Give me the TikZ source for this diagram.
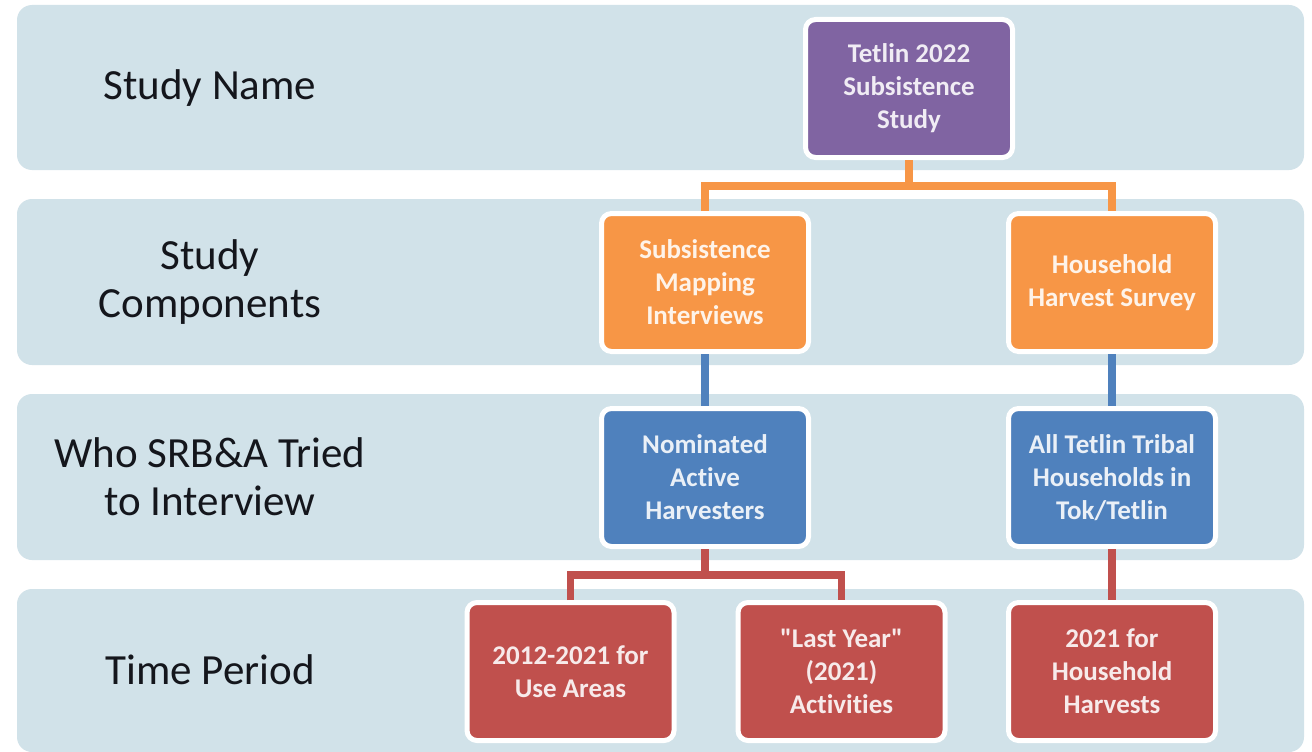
\documentclass[tikz,border=0pt]{standalone}
\usepackage{fontspec}
\setmainfont[Ligatures={TeXOff,NoCommon}]{Carlito}
\definecolor{bandc}{RGB}{209,226,233}
\definecolor{purplec}{RGB}{128,100,162}
\definecolor{orangec}{RGB}{247,150,70}
\definecolor{bluec}{RGB}{79,129,189}
\definecolor{redc}{RGB}{192,80,77}
\definecolor{labelc}{RGB}{20,22,28}
\tikzset{
  band/.style={fill=bandc, rounded corners=15pt},
  cbox/.style={rectangle, rounded corners=10pt, draw=white, line width=5pt,
    minimum width=207pt, minimum height=138pt, align=center, inner sep=2pt,
    font=\bfseries\fontsize{27}{33}\selectfont},
  pbox/.style={cbox, fill=purplec, text=white!88!purplec},
  obox/.style={cbox, fill=orangec, text=white!88!orangec},
  bbox/.style={cbox, fill=bluec, text=white!88!bluec},
  rbox/.style={cbox, fill=redc, text=white!88!redc},
  rowlabel/.style={align=center, text=labelc, font=\fontsize{43}{48}\selectfont},
  conn/.style={line width=7.5pt, line join=miter, line cap=butt},
  oline/.style={conn, draw=orangec},
  bline/.style={conn, draw=bluec},
  rline/.style={conn, draw=redc},
}
\begin{document}
\begin{tikzpicture}[x=1pt, y=-1pt]
\useasboundingbox (0,0) rectangle (1312,752);
\fill[white] (0,0) rectangle (1312,752);
% bands
\fill[band] (17,5) rectangle (1304,170);
\fill[band] (17,199) rectangle (1304,365);
\fill[band] (17,394) rectangle (1304,560);
\fill[band] (17,589) rectangle (1304,752);
% row labels
\node[rowlabel] (l1) at (210,88) {Study Name};
\node[rowlabel] (l2) at (210,282) {Study\\Components};
\node[rowlabel] (l3) at (210,477) {Who SRB\&A Tried\\to Interview};
\node[rowlabel] (l4) at (210,670) {Time Period};
% boxes
\node[pbox] (tet) at (909,88.5) {Tetlin 2022\\Subsistence\\Study};
\node[obox] (smi) at (705,282.5) {Subsistence\\Mapping\\Interviews};
\node[obox] (hhs) at (1112,282.5) {Household\\Harvest Survey};
\node[bbox] (nah) at (705,477.5) {Nominated\\Active\\Harvesters};
\node[bbox] (ath) at (1112,477.5) {All Tetlin Tribal\\Households in\\Tok/Tetlin};
\node[rbox] (r1) at (570.5,671.5) {2012-2021 for\\Use Areas};
\node[rbox] (r2) at (841.5,671.5) {"Last Year"\\(2021)\\Activities};
\node[rbox] (r3) at (1112,671.5) {2021 for\\Household\\Harvests};
% connectors
\draw[oline] (tet.south) -- ([yshift=-26pt]tet.south);
\draw[oline] (smi.north) |- ([yshift=-26pt]tet.south) -| (hhs.north);
\draw[bline] (smi.south) -- (nah.north);
\draw[bline] (hhs.south) -- (ath.north);
\draw[rline] (nah.south) -- ([yshift=-26pt]nah.south);
\draw[rline] (r1.north) |- ([yshift=-26pt]nah.south) -| (r2.north);
\draw[rline] (ath.south) -- (r3.north);
\end{tikzpicture}
\end{document}
